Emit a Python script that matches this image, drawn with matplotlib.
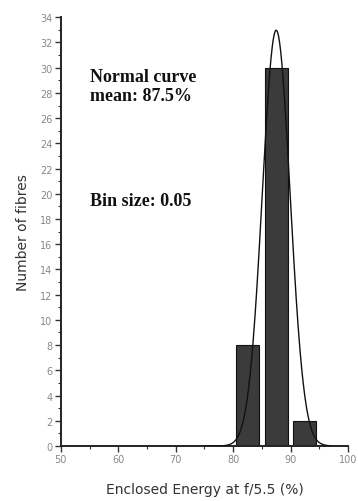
import matplotlib.pyplot as plt
import numpy as np
from matplotlib.ticker import MultipleLocator

# histogram of enclosed energy per fibre
bin_centres = [82.5, 87.5, 92.5]
counts = [8, 30, 2]
bin_width = 5.0
mean_ee = 87.5
sigma_ee = 2.42

# normal curve scaled to the histogram
n_fibres = sum(counts)
xs = np.linspace(75, 97, 400)
curve = n_fibres * bin_width / (sigma_ee * np.sqrt(2 * np.pi)) * np.exp(-0.5 * ((xs - mean_ee) / sigma_ee) ** 2)

fig = plt.figure(figsize=(3.58, 5.02), dpi=100)
ax = fig.add_axes([0.170, 0.1096, 0.802, 0.854])

ax.bar(bin_centres, counts, width=4.0, color='#3b3b3b', edgecolor='#111111', linewidth=0.8, zorder=2)
ax.plot(xs, curve, color='#111111', lw=1.0, zorder=3)

ax.set_xlim(50, 100)
ax.set_ylim(0, 34)
ax.xaxis.set_major_locator(MultipleLocator(10))
ax.xaxis.set_minor_locator(MultipleLocator(5))
ax.yaxis.set_major_locator(MultipleLocator(2))
ax.yaxis.set_minor_locator(MultipleLocator(1))

for s in ['top', 'right']:
    ax.spines[s].set_visible(False)
for s in ['left', 'bottom']:
    ax.spines[s].set_color('#222222')
    ax.spines[s].set_linewidth(1.4)

ax.tick_params(which='major', direction='out', length=4, width=1, color='#333333',
               labelsize=7, labelcolor='#888888', pad=2)
ax.tick_params(which='minor', direction='out', length=2, width=0.8, color='#333333')

ax.set_ylabel('Number of fibres', fontsize=10, color='#333333', labelpad=7)
ax.set_xlabel('Enclosed Energy at f/5.5 (%)', fontsize=10, color='#333333', labelpad=13)

tfont = dict(family='Liberation Serif', fontweight='bold', fontsize=13, color='#111111')
ax.text(55.0, 28.55, 'Normal curve\nmean: 87.5%', va='center', ha='left', linespacing=1.2, **tfont)
ax.text(55.0, 19.5, 'Bin size: 0.05', va='center', ha='left', **tfont)

fig.savefig('out.png', dpi=100)
